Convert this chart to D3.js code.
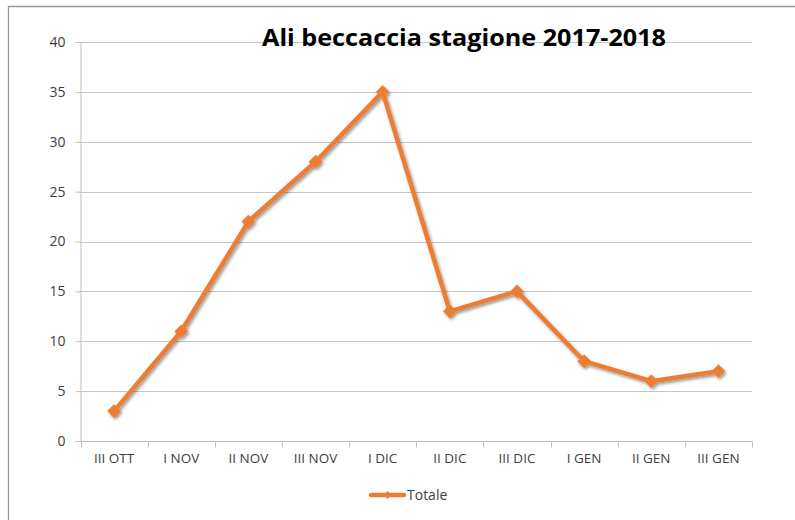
<!DOCTYPE html>
<html><head><meta charset="utf-8">
<script src="https://cdn.jsdelivr.net/npm/d3@7"></script>
<style>body{margin:0;background:#fff}svg{display:block}</style>
</head><body>
<script>
const categories = ["III OTT","I NOV","II NOV","III NOV","I DIC","II DIC","III DIC","I GEN","II GEN","III GEN"];
const values = [3,11,22,28,35,13,15,8,6,7];
const yTicks = [0,5,10,15,20,25,30,35,40];
const title = "Ali beccaccia stagione 2017-2018";
const seriesName = "Totale";

const W=795,H=520, color="#ED7D31";
const svg=d3.select("body").append("svg").attr("width",W).attr("height",H);
const defs=svg.append("defs");
const f=defs.append("filter").attr("id","sh").attr("x","-50%").attr("y","-50%").attr("width","200%").attr("height","200%");
f.append("feDropShadow").attr("dx",1.5).attr("dy",2).attr("stdDeviation",1.5).attr("flood-color","#000").attr("flood-opacity",0.4);

// frame
svg.append("path").attr("d",`M8.5,${H} V6.5 H${W}`).attr("fill","none").attr("stroke","#999").attr("stroke-width",1.3);

const x=d3.scaleBand().domain(categories).range([80.5,752]);
const y=d3.scaleLinear().domain([0,40]).range([441,42]);

// gridlines
svg.append("g").selectAll("line").data(yTicks.filter(d=>d>0)).join("line")
 .attr("x1",80).attr("x2",752).attr("y1",d=>Math.round(y(d))+0.5).attr("y2",d=>Math.round(y(d))+0.5)
 .attr("stroke","#c6c6c6").attr("stroke-width",1);

const yAxis=svg.append("g").attr("transform","translate(80.5,0)")
 .call(d3.axisLeft(y).tickValues(yTicks).tickSize(5).tickPadding(10));
yAxis.select(".domain").attr("stroke","#bfbfbf");
yAxis.selectAll(".tick line").attr("stroke","#bfbfbf");
yAxis.selectAll("text").attr("fill","#404040").attr("font-family","'Open Sans',sans-serif").attr("font-size",14);

const xAxis=svg.append("g").attr("transform",`translate(0,${Math.round(y(0))+0.5})`)
 .call(d3.axisBottom(x).tickSize(0).tickPadding(15));
xAxis.select(".domain").attr("stroke","#bfbfbf").attr("d",`M80.5,0H752`);
xAxis.selectAll("text").attr("fill","#404040").attr("font-family","'Open Sans',sans-serif").attr("font-size",13.5).attr("dy","0.5em");
// boundary ticks
const bounds=categories.map(c=>x(c)).concat([x.range()[1]]);
xAxis.append("g").selectAll("line").data(bounds).join("line")
 .attr("x1",d=>Math.round(d)+0.5).attr("x2",d=>Math.round(d)+0.5).attr("y1",0).attr("y2",6).attr("stroke","#bfbfbf");

const cx=d=>x(d)+x.bandwidth()/2;
const line=d3.line().x((d,i)=>cx(categories[i])).y(d=>y(d));
const g=svg.append("g").attr("filter","url(#sh)");
g.append("path").datum(values).attr("d",line).attr("fill","none").attr("stroke",color).attr("stroke-width",4.5).attr("stroke-linejoin","round");
const sym=d3.symbol().type(d3.symbolDiamond2).size(120);
g.selectAll("path.m").data(values).join("path").attr("class","m")
 .attr("transform",(d,i)=>`translate(${cx(categories[i])},${y(d)})`).attr("d",sym).attr("fill",color);

svg.append("text").attr("x",464).attr("y",46).attr("text-anchor","middle")
 .attr("font-family","'Open Sans',sans-serif").attr("font-weight","bold").attr("font-size",24).attr("fill","#000")
 .attr("textLength",404).attr("lengthAdjust","spacingAndGlyphs").text(title);

// legend
const lg=svg.append("g");
lg.append("line").attr("x1",371).attr("x2",404).attr("y1",495).attr("y2",495).attr("stroke",color).attr("stroke-width",4.5).attr("stroke-linecap","round");
lg.append("path").attr("transform","translate(387.5,495)").attr("d",d3.symbol().type(d3.symbolDiamond2).size(40)).attr("fill",color);
lg.append("text").attr("x",407).attr("y",500).attr("font-family","'Open Sans',sans-serif").attr("font-size",14).attr("fill","#404040").text(seriesName);
</script>
</body></html>
